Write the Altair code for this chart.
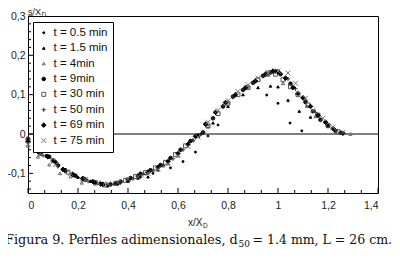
import altair as alt
import pandas as pd

SERIES = ["t = 0.5 min", "t = 1.5 min", "t = 4min", "t = 9min",
          "t = 30 min", "t = 50 min", "t = 69 min", "t = 75 min"]

X_05 = [0.0, 0.05, 0.1, 0.15, 0.2, 0.25, 0.3, 0.35, 0.4, 0.45, 0.5, 0.57, 0.62, 0.67, 0.72, 0.76, 0.955, 1.0, 1.048, 1.095]
Y_05 = [-0.02, -0.05, -0.07, -0.09, -0.11, -0.12, -0.125, -0.125, -0.12, -0.11, -0.1, -0.086, -0.07, -0.046, -0.005, 0.023, 0.099, 0.078, 0.028, 0.008]

X_15 = [0.0, 0.05, 0.1, 0.15, 0.2, 0.25, 0.3, 0.35, 0.4, 0.44, 0.48, 0.52, 0.56, 0.6, 0.64, 0.69, 0.74, 0.8, 0.86, 0.92, 0.97, 1.0, 1.04, 1.085, 1.13, 1.2]
Y_15 = [-0.02, -0.045, -0.065, -0.09, -0.11, -0.12, -0.126, -0.126, -0.12, -0.112, -0.109, -0.091, -0.075, -0.05, -0.023, 0.0, 0.028, 0.07, 0.1, 0.118, 0.122, 0.12, 0.086, 0.058, 0.043, 0.02]

X_4 = [0.0, 0.04, 0.085, 0.128, 0.17, 0.215, 0.27, 0.33, 0.4, 0.47, 0.54, 0.6, 0.66, 0.72, 0.8, 0.88, 0.96, 1.02, 1.075, 1.116, 1.15, 1.2, 1.29]
Y_4 = [-0.03, -0.058, -0.078, -0.1, -0.108, -0.124, -0.126, -0.127, -0.118, -0.1, -0.08, -0.055, -0.015, 0.02, 0.08, 0.12, 0.15, 0.129, 0.104, 0.071, 0.045, 0.02, 0.0]

X_9 = [0.0, 0.035, 0.075, 0.085, 0.12, 0.15, 0.19, 0.23, 0.27, 0.3, 0.33, 0.37, 0.41, 0.45, 0.49, 0.53, 0.57, 0.61, 0.65, 0.68, 0.7, 0.74, 0.78, 0.82, 0.86, 0.9, 0.94, 0.97, 0.99, 1.01, 1.05, 1.08, 1.11, 1.14, 1.17, 1.2, 1.23, 1.25]
Y_9 = [-0.012, -0.042, -0.056, -0.058, -0.08, -0.094, -0.106, -0.116, -0.123, -0.129, -0.128, -0.121, -0.112, -0.101, -0.092, -0.079, -0.061, -0.04, -0.018, -0.004, 0.004, 0.04, 0.07, 0.095, 0.112, 0.13, 0.148, 0.157, 0.159, 0.152, 0.128, 0.103, 0.081, 0.058, 0.036, 0.02, 0.008, 0.003]

X_30 = [0.0, 0.05, 0.1, 0.16, 0.22, 0.27, 0.31, 0.35, 0.39, 0.43, 0.47, 0.51, 0.55, 0.59, 0.63, 0.68, 0.72, 0.76, 0.8, 0.84, 0.88, 0.92, 0.96, 0.99, 1.02, 1.05, 1.08, 1.12, 1.16, 1.2, 1.24]
Y_30 = [-0.015, -0.05, -0.068, -0.097, -0.115, -0.124, -0.13, -0.126, -0.118, -0.108, -0.098, -0.086, -0.072, -0.052, -0.03, -0.004, 0.02, 0.052, 0.078, 0.1, 0.118, 0.138, 0.155, 0.152, 0.138, 0.12, 0.1, 0.074, 0.048, 0.022, 0.006]

X_50 = [0.0, 0.06, 0.12, 0.18, 0.24, 0.29, 0.33, 0.37, 0.42, 0.46, 0.5, 0.54, 0.58, 0.62, 0.66, 0.7, 0.74, 0.78, 0.82, 0.86, 0.9, 0.94, 0.97, 1.0, 1.04, 1.07, 1.11, 1.15, 1.19, 1.23]
Y_50 = [-0.02, -0.055, -0.082, -0.105, -0.12, -0.127, -0.128, -0.124, -0.114, -0.103, -0.094, -0.08, -0.063, -0.04, -0.016, 0.005, 0.04, 0.072, 0.094, 0.112, 0.13, 0.147, 0.156, 0.158, 0.14, 0.115, 0.085, 0.055, 0.028, 0.01]

X_69 = [0.0, 0.04, 0.08, 0.11, 0.14, 0.18, 0.22, 0.26, 0.29, 0.32, 0.36, 0.4, 0.44, 0.48, 0.52, 0.56, 0.6, 0.64, 0.67, 0.71, 0.75, 0.79, 0.83, 0.87, 0.91, 0.95, 0.98, 1.0, 1.03, 1.06, 1.1, 1.13, 1.16, 1.19, 1.22, 1.26]
Y_69 = [-0.02, -0.045, -0.058, -0.072, -0.09, -0.103, -0.113, -0.121, -0.127, -0.13, -0.125, -0.117, -0.107, -0.097, -0.085, -0.07, -0.05, -0.027, -0.006, 0.025, 0.055, 0.08, 0.1, 0.118, 0.135, 0.152, 0.16, 0.158, 0.142, 0.118, 0.092, 0.07, 0.047, 0.03, 0.014, 0.002]

X_75 = [0.0, 0.05, 0.11, 0.17, 0.23, 0.28, 0.32, 0.36, 0.4, 0.44, 0.48, 0.52, 0.56, 0.6, 0.64, 0.68, 0.72, 0.76, 0.8, 0.84, 0.88, 0.92, 0.96, 1.0, 1.04, 1.07, 1.11, 1.14, 1.18, 1.22, 1.26]
Y_75 = [-0.025, -0.05, -0.078, -0.1, -0.116, -0.124, -0.127, -0.123, -0.115, -0.108, -0.1, -0.09, -0.076, -0.055, -0.032, -0.008, 0.03, 0.06, 0.085, 0.108, 0.125, 0.142, 0.155, 0.16, 0.155, 0.129, 0.091, 0.06, 0.04, 0.018, 0.004]

SERIES_X = [X_05, X_15, X_4, X_9, X_30, X_50, X_69, X_75]
SERIES_Y = [Y_05, Y_15, Y_4, Y_9, Y_30, Y_50, Y_69, Y_75]

SHAPES = ["circle", "triangle-up", "triangle-up", "circle", "square",
          "M-1,0H1M0,-1V1", "diamond", "M-1,-1L1,1M-1,1L1,-1"]
FILLS = ["black", "black", "transparent", "black", "transparent", "transparent", "black", "transparent"]
STROKES = ["black", "black", "#666666", "black", "#555555", "#333333", "black", "#777777"]
SIZES = [4, 24, 34, 26, 30, 36, 30, 32]

X_TICKS = [0, 0.2, 0.4, 0.6, 0.8, 1, 1.2, 1.4]
Y_TICKS = [-0.1, 0, 0.1, 0.2, 0.3]
X_MINOR = [0.0667, 0.1333, 0.2667, 0.3333, 0.4667, 0.5333, 0.6667, 0.7333,
           0.8667, 0.9333, 1.0667, 1.1333, 1.2667, 1.3333]
Y_MINOR = [-0.14, -0.12, -0.08, -0.06, -0.04, -0.02, 0.02, 0.04, 0.06, 0.08,
           0.12, 0.14, 0.16, 0.18, 0.22, 0.24, 0.26, 0.28]
ZERO = [0]

CAPTION_A = "Figura 9. Perfiles adimensionales, d"
CAPTION_SUB = "50"
CAPTION_B = " = 1.4 mm, L = 26 cm."

rows = []
for name, xs_, ys_ in zip(SERIES, SERIES_X, SERIES_Y):
    for a, b in zip(xs_, ys_):
        rows.append({"t": name, "x": a, "y": b})
df = pd.DataFrame(rows)

W, H = 350, 177
PL = 20
xsc = alt.Scale(domain=[0, 1.4], nice=False, zero=False)
ysc = alt.Scale(domain=[-0.15, 0.3], nice=False, zero=False)
LAB = "replace(toString(datum.value), '.', ',')"
FONT = "Liberation Sans"

xaxis = alt.Axis(values=X_TICKS, labelExpr=LAB, ticks=False, domain=False, grid=False,
                 title=None, labelFont=FONT, labelFontSize=10.5, labelColor="#222",
                 labelPadding=7)
yaxis = alt.Axis(values=Y_TICKS, labelExpr=LAB, ticks=False, domain=False, grid=False,
                 title=None, labelFont=FONT, labelFontSize=10.5, labelColor="#222",
                 labelPadding=3)

zero = alt.Chart(pd.DataFrame({"v": ZERO})).mark_rule(color="black", strokeWidth=1).encode(
    y=alt.Y("v:Q", scale=ysc, axis=yaxis))

xmaj = alt.Chart(pd.DataFrame({"v": X_TICKS})).mark_rule(color="black", strokeWidth=1).encode(
    x=alt.X("v:Q", scale=xsc, axis=xaxis), y=alt.value(H), y2=alt.value(H - 5))
xmin = alt.Chart(pd.DataFrame({"v": X_MINOR})).mark_rule(color="black", strokeWidth=1).encode(
    x=alt.X("v:Q", scale=xsc), y=alt.value(H), y2=alt.value(H - 3))
ymaj = alt.Chart(pd.DataFrame({"v": Y_TICKS})).mark_rule(color="black", strokeWidth=1).encode(
    y=alt.Y("v:Q", scale=ysc), x=alt.value(0), x2=alt.value(5))
ymin = alt.Chart(pd.DataFrame({"v": Y_MINOR})).mark_rule(color="black", strokeWidth=1).encode(
    y=alt.Y("v:Q", scale=ysc), x=alt.value(0), x2=alt.value(3))

points = alt.Chart(df).mark_point(strokeWidth=1, opacity=1).encode(
    x=alt.X("x:Q", scale=xsc, axis=xaxis),
    y=alt.Y("y:Q", scale=ysc, axis=yaxis),
    shape=alt.Shape("t:N", scale=alt.Scale(domain=SERIES, range=SHAPES), title=None),
    fill=alt.Fill("t:N", scale=alt.Scale(domain=SERIES, range=FILLS), title=None),
    stroke=alt.Stroke("t:N", scale=alt.Scale(domain=SERIES, range=STROKES), title=None),
    size=alt.Size("t:N", scale=alt.Scale(domain=SERIES, range=SIZES), title=None),
)

one = alt.Data(values=[{}])
def txt(s, x, y, size, font=FONT, color="#222", align="left"):
    return alt.Chart(one).mark_text(text=s, align=align, baseline="alphabetic",
                                    font=font, fontSize=size, color=color).encode(
        x=alt.value(x), y=alt.value(y))

OX = 8 + PL   # page x of plot origin
OY = 16       # page y of plot origin
texts = [
    txt("s/X", 28 - OX, 15 - OY, 9),
    txt("D", 41.5 - OX, 17 - OY, 6.5),
    txt("x/X", 188 - OX, 226 - OY, 10),
    txt("D", 203 - OX, 228 - OY, 6.5),
    txt(CAPTION_A, 5 - OX, 244 - OY, 12.8, font="DejaVu Serif", color="#111"),
    txt(CAPTION_SUB, 238.5 - OX, 247 - OY, 9, font="DejaVu Serif", color="#111"),
    txt(CAPTION_B, 392 - OX, 244 - OY, 12.5, font="DejaVu Serif", color="#111", align="right"),
]

chart = alt.layer(zero, xmaj, xmin, ymaj, ymin, points, *texts).properties(
    width=W, height=H,
    autosize=alt.AutoSizeParams(type="none"),
    padding={"left": PL, "top": 8, "right": 14, "bottom": 58},
).configure_view(stroke="black", strokeWidth=1).configure_legend(
    orient="none", legendX=5, legendY=6, fillColor="white", strokeColor="black",
    padding=5, labelFont=FONT, labelFontSize=11.5, labelColor="#111",
    rowPadding=2.4, symbolStrokeWidth=1, labelOffset=4, symbolOffset=0,
)

chart.save("out.html", embed_options={"renderer": "svg", "actions": False})
